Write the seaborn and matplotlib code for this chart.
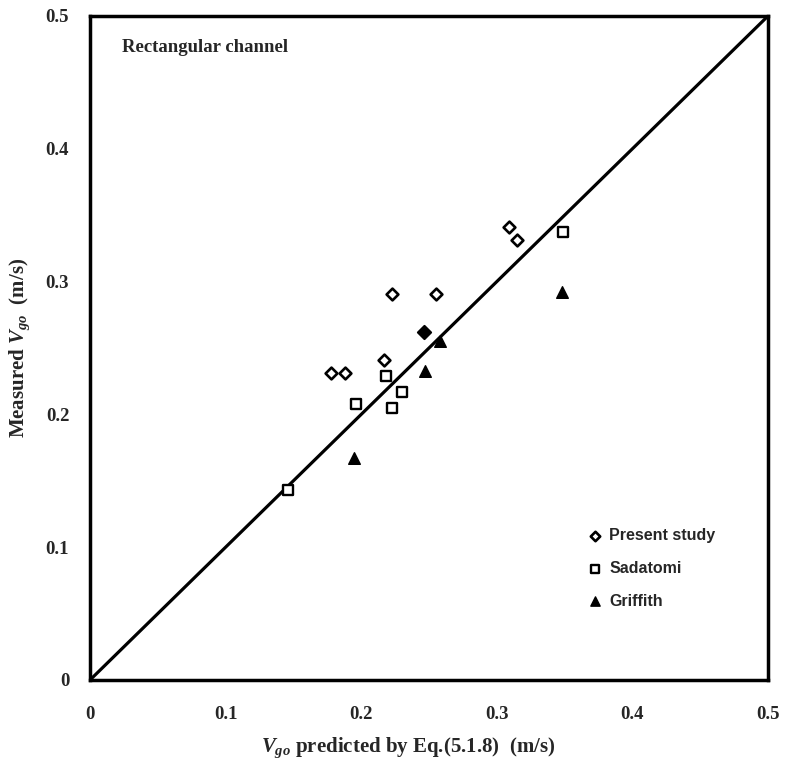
import matplotlib
matplotlib.use("Agg")
import matplotlib.pyplot as plt
import seaborn as sns
import pandas as pd

# Data
present_x = [0.178, 0.188, 0.217, 0.223, 0.255, 0.309, 0.315]
present_y = [0.231, 0.231, 0.241, 0.291, 0.291, 0.341, 0.331]
present_filled_x = [0.246]
present_filled_y = [0.262]
sadatomi_x = [0.146, 0.196, 0.218, 0.223, 0.230, 0.349]
sadatomi_y = [0.143, 0.208, 0.229, 0.205, 0.217, 0.337]
griffith_x = [0.195, 0.247, 0.258, 0.348]
griffith_y = [0.167, 0.233, 0.255, 0.292]
line_x = [0.0, 0.5]
line_y = [0.0, 0.5]
ticks = [0, 0.1, 0.2, 0.3, 0.4, 0.5]
tick_labels = ["0", "0.1", "0.2", "0.3", "0.4", "0.5"]

sns.set_style("white")
plt.rcParams["font.family"] = ["Liberation Serif", "DejaVu Serif"]
plt.rcParams["mathtext.fontset"] = "custom"
plt.rcParams["mathtext.rm"] = "Liberation Serif:bold"
plt.rcParams["mathtext.it"] = "Liberation Serif:italic:bold"
plt.rcParams["mathtext.bf"] = "Liberation Serif:bold"

fig = plt.figure(figsize=(7.85, 7.7), dpi=100)
ax = fig.add_axes([90/785, 90/770, 678/785, 664/770])

sns.lineplot(x=line_x, y=line_y, ax=ax, color="black", linewidth=2.3)

df_p = pd.DataFrame({"x": present_x, "y": present_y})
df_pf = pd.DataFrame({"x": present_filled_x, "y": present_filled_y})
df_s = pd.DataFrame({"x": sadatomi_x, "y": sadatomi_y})
df_g = pd.DataFrame({"x": griffith_x, "y": griffith_y})

sns.scatterplot(data=df_p, x="x", y="y", ax=ax, marker="D", s=36,
                facecolor="white", edgecolor="black", linewidth=1.9,
                label="Present study", zorder=3)
sns.scatterplot(data=df_pf, x="x", y="y", ax=ax, marker="D", s=45,
                facecolor="black", edgecolor="black", linewidth=1.5,
                zorder=3)
sns.scatterplot(data=df_s, x="x", y="y", ax=ax, marker="s", s=60,
                facecolor="white", edgecolor="black", linewidth=1.7,
                label="Sadatomi", zorder=3)
sns.scatterplot(data=df_g, x="x", y="y", ax=ax, marker="^", s=70,
                facecolor="black", edgecolor="black", linewidth=1.0,
                label="Griffith", zorder=3)

ax.set_xlim(0, 0.5)
ax.set_ylim(0, 0.5)
ax.set_xticks(ticks)
ax.set_yticks(ticks)
ax.set_xticklabels(tick_labels, fontsize=13.5, fontweight="bold")
ax.set_yticklabels(tick_labels, fontsize=13.5, fontweight="bold")
ax.tick_params(direction="in", length=5, width=1.2)
ax.tick_params(axis="y", pad=15)
ax.tick_params(axis="x", pad=19)
for sp in ax.spines.values():
    sp.set_linewidth(2.5)
    sp.set_color("black")

ax.set_xlabel(r"$V_{go}$ predicted by Eq.(5.1.8)  (m/s)", fontsize=15,
              fontweight="bold")
ax.xaxis.set_label_coords(0.47, -0.084)
ax.set_ylabel(r"Measured $V_{go}$  (m/s)", fontsize=15,
              fontweight="bold", labelpad=10)

ax.text(0.047, 0.965, "Rectangular channel", transform=ax.transAxes,
        fontsize=13.5, fontweight="bold", va="top", ha="left")

leg = ax.legend(loc="upper left", bbox_to_anchor=(0.708, 0.25), frameon=False,
                prop={"family": "Liberation Sans", "weight": "bold", "size": 11.5},
                handletextpad=0.25, labelspacing=1.1, handlelength=1.3,
                markerscale=0.8)

fig.savefig("out.png", dpi=100)
